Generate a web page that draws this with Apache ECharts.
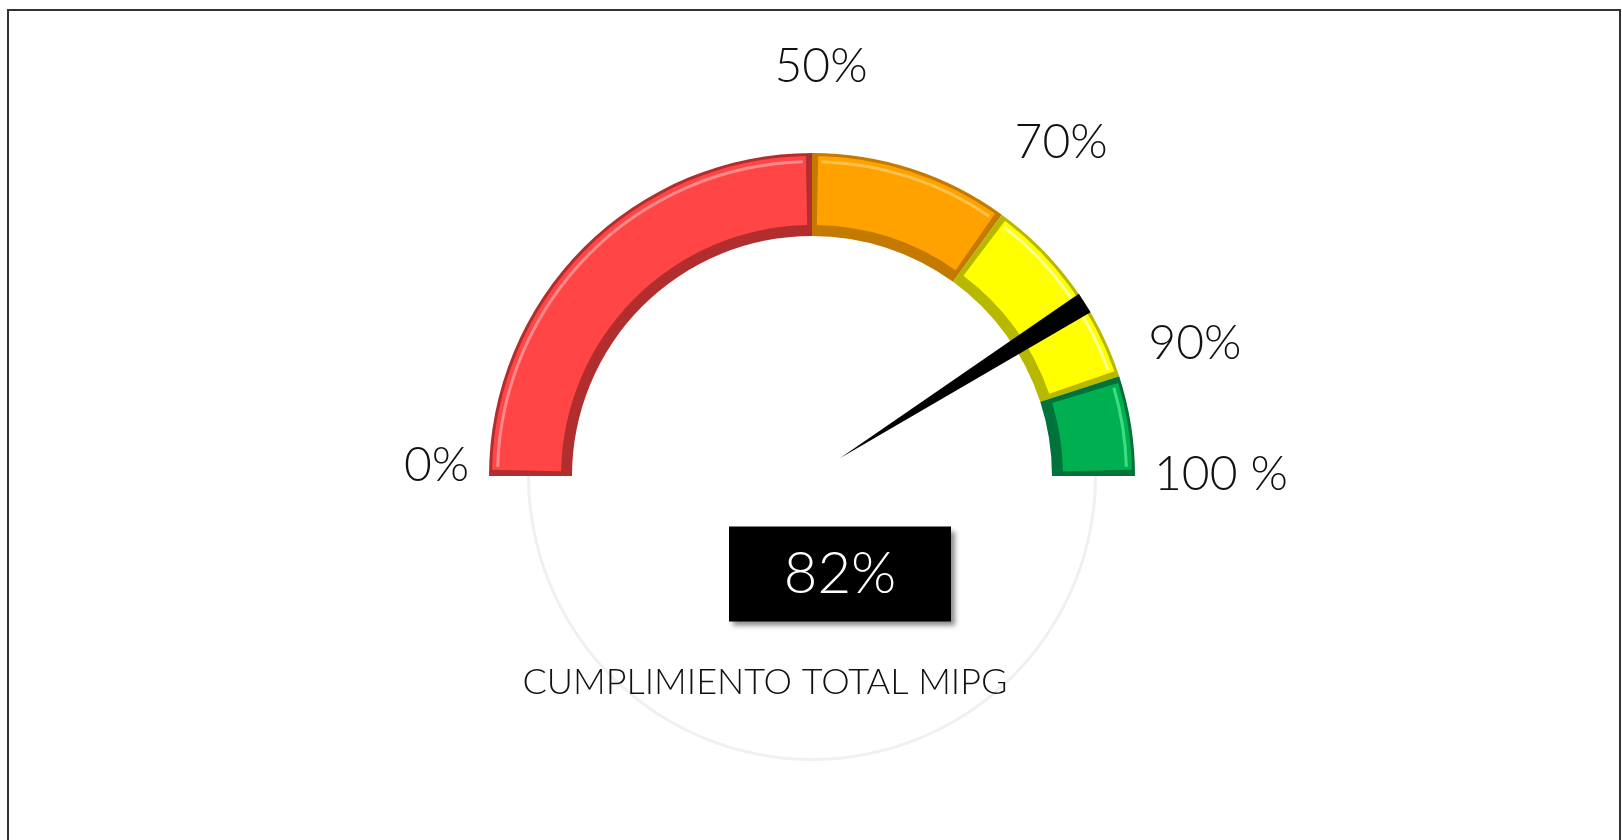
<!DOCTYPE html>
<html>
<head>
    <meta charset="utf-8">
    <title>Cumplimiento MIPG</title>
    <script type="text/javascript" src="https://cdn.jsdelivr.net/npm/echarts@6/dist/echarts.min.js"></script>
    <style>
        html, body { margin: 0; padding: 0; background: #fff; }
        #main { position: absolute; left: 0; top: 0; width: 1622px; height: 840px; }
        #frame { position: absolute; left: 7px; top: 9px; width: 1614px; height: 900px; box-sizing: border-box;
                 border-left: 2px solid #333; border-top: 2px solid #333; border-right: 2px solid #333; pointer-events: none; }
    </style>
</head>
<body>
<div id="main"></div>
<div id="frame"></div>
<script type="text/javascript">
// data
var bandEdges = [0, 50, 70, 90, 100];
var bandColors = ['#FF4545', '#FFA200', '#FFFF00', '#00B050'];
var bandShades = ['#B22E2E', '#C47A00', '#B8B800', '#00733A'];
var bandLights = ['#FF8A8A', '#FFC24D', '#FFFF9A', '#3DDC85'];
var tickValues = [0, 50, 70, 90, 100];
var tickLabels = ['0%', '50%', '70%', '90%', '100 %'];
var seriesName = 'CUMPLIMIENTO TOTAL MIPG';
var seriesValue = 82;

var myChart = echarts.init(document.getElementById('main'));

var CENTER = [812, 476];
var R_OUT = 323;
var BAND_W = 83;
var INSET = 1.1;

function angleOf(v) {
    return 180 - v / 100 * 180;
}

var hidden = {
    splitLine: {show: false},
    axisTick: {show: false},
    axisLabel: {show: false},
    pointer: {show: false},
    anchor: {show: false},
    title: {show: false},
    detail: {show: false}
};

function ring(radius, width, a0, a1, color, extra) {
    var s = {
        type: 'gauge',
        center: CENTER,
        radius: radius,
        startAngle: a0,
        endAngle: a1,
        silent: true,
        axisLine: {lineStyle: {width: width, color: [[1, color]]}},
        data: []
    };
    Object.keys(hidden).forEach(function (k) { s[k] = hidden[k]; });
    if (extra) s.axisLine.lineStyle = Object.assign(s.axisLine.lineStyle, extra);
    return s;
}

var series = [];

// faint reflection under the dial
series.push(ring(285, 3, 0, -180, 'rgba(0,0,0,0.06)', {shadowBlur: 6, shadowColor: 'rgba(0,0,0,0.12)'}));

// bevelled colour bands
for (var i = 0; i < bandColors.length; i++) {
    var a0 = angleOf(bandEdges[i]), a1 = angleOf(bandEdges[i + 1]);
    series.push(ring(R_OUT, BAND_W, a0, a1, bandShades[i]));
    series.push(ring(R_OUT - 3, BAND_W - 14, a0 - INSET, a1 + INSET, bandColors[i]));
    series.push(ring(R_OUT - 7, 3, a0 - INSET - 0.6, a1 + INSET + 0.6, bandLights[i]));
}

// per-label nudges for the tick labels
var labelFont = {fontFamily: 'Lato', fontWeight: 300, fontSize: 48, color: '#111'};
var labelPad = [[0, 0, 20, 95], [70, 0, 0, 18], [49, 0, 0, 0], [45, 49, 0, 0], [0, 27, 2, 0]];
var rich = {};
tickLabels.forEach(function (t, k) {
    rich['t' + k] = Object.assign({padding: labelPad[k]}, labelFont);
});

series.push({
    type: 'gauge',
    z: 10,
    center: CENTER,
    radius: R_OUT,
    startAngle: 180,
    endAngle: 0,
    min: 0,
    max: 100,
    splitNumber: 10,
    axisLine: {show: false, lineStyle: {width: 0}},
    splitLine: {show: false, length: 0, distance: 0},
    axisTick: {show: false},
    axisLabel: {
        distance: -180,
        fontFamily: 'Lato', fontWeight: 300, fontSize: 48, color: '#111',
        formatter: function (v) {
            var k = tickValues.indexOf(Math.round(v));
            return k < 0 ? '' : '{t' + k + '|' + tickLabels[k] + '}';
        },
        rich: rich
    },
    pointer: {
        icon: 'path://M0,0 L2,0 L1,10 Z',
        length: 290,
        width: 22,
        offsetCenter: [0, -33],
        itemStyle: {color: '#000'}
    },
    anchor: {show: false},
    title: {
        offsetCenter: [-47, 206],
        fontFamily: 'Lato', fontWeight: 300, fontSize: 36, color: '#111'
    },
    detail: {
        offsetCenter: [28, 98],
        width: 222,
        height: 95,
        lineHeight: 95,
        padding: 0,
        backgroundColor: '#000',
        color: '#fff',
        fontFamily: 'Lato', fontWeight: 300, fontSize: 58,
        shadowColor: 'rgba(0,0,0,0.45)', shadowBlur: 5, shadowOffsetX: 4, shadowOffsetY: 4,
        formatter: '{value}%',
        valueAnimation: false
    },
    data: [{value: seriesValue, name: seriesName}]
});

myChart.setOption({
    animation: false,
    backgroundColor: '#fff',
    series: series
});
</script>
</body>
</html>
